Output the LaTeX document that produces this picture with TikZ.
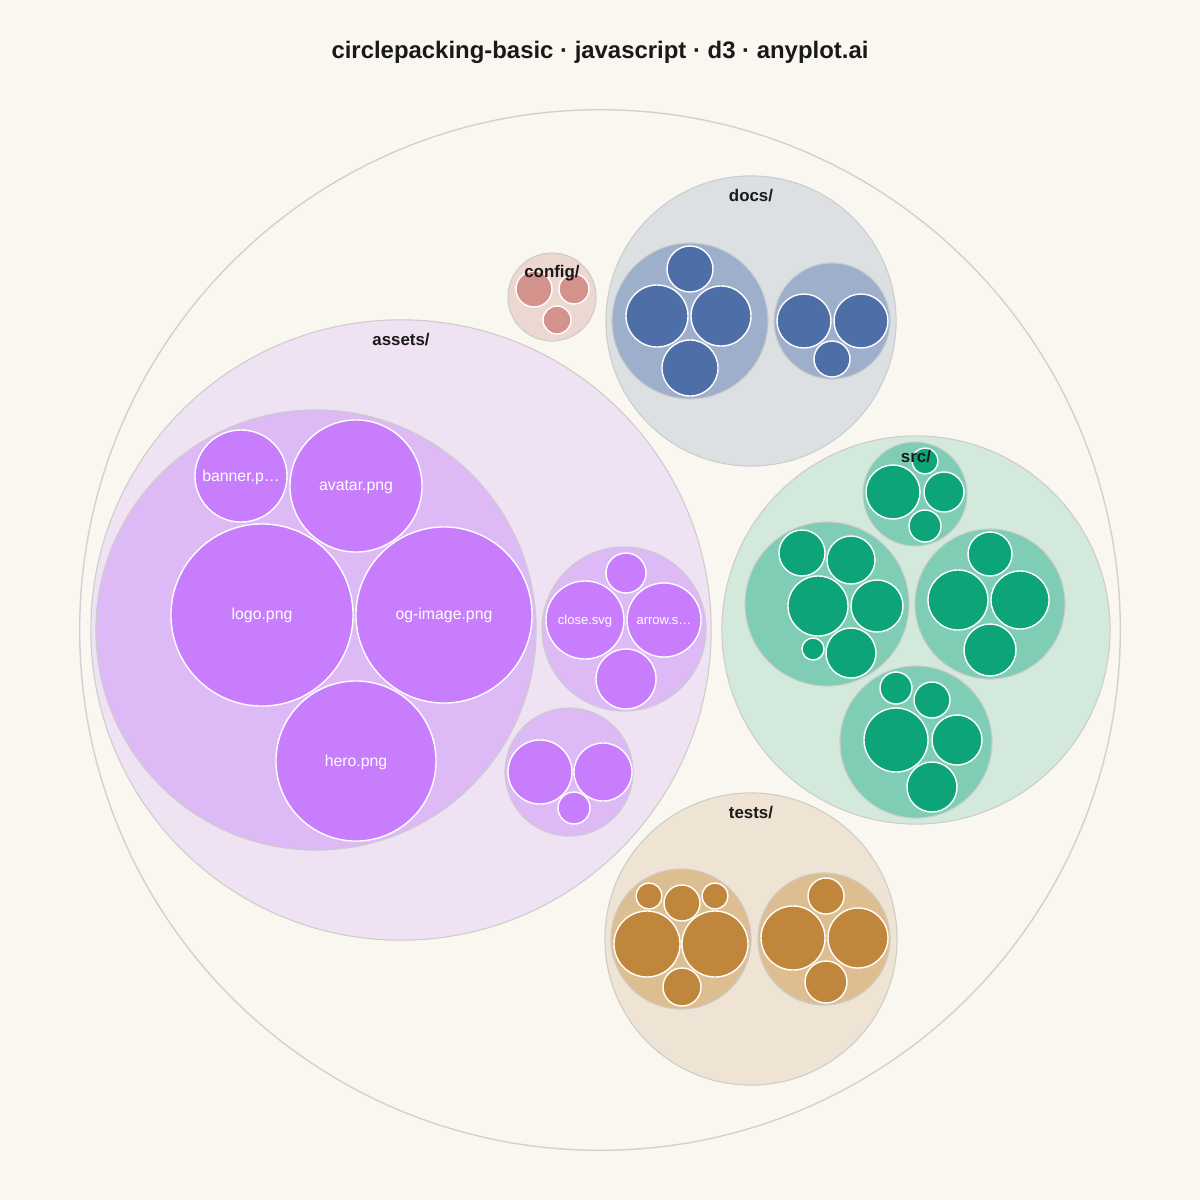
\documentclass[tikz,border=0pt]{standalone}
\usepackage{fontspec}
\setmainfont{Liberation Sans}
\definecolor{bg}{HTML}{FAF7F0}
\definecolor{pL}{HTML}{C77DFC}\definecolor{pM}{HTML}{DDB9F5}\definecolor{pG}{HTML}{EFE2F3}
\definecolor{bL}{HTML}{4E6EA8}\definecolor{bM}{HTML}{9EAFCB}\definecolor{bG}{HTML}{DCE0E3}
\definecolor{gL}{HTML}{0EA47A}\definecolor{gM}{HTML}{80CDB5}\definecolor{gG}{HTML}{D3E9DC}
\definecolor{oL}{HTML}{C0873C}\definecolor{oM}{HTML}{DDBE91}\definecolor{oG}{HTML}{EFE3D3}
\definecolor{rL}{HTML}{D4928C}\definecolor{rG}{HTML}{ECD8D0}
\begin{document}
\begin{tikzpicture}[x=0.01cm,y=-0.01cm,
 grp/.style={draw=black!20,line width=0.3pt},
 leaf/.style={draw=white,line width=0.4pt},
 glab/.style={font=\fontsize{4.8}{5}\selectfont\bfseries,text=black!90},
 llab/.style={font=\fontsize{4.5}{5}\selectfont,text=white},
 slab/.style={font=\fontsize{3.7}{4}\selectfont,text=white}]
\fill[bg] (0,0) rectangle (1200,1200);
\useasboundingbox (0,0) rectangle (1200,1200);
\node[font=\fontsize{6.8}{7}\selectfont\bfseries,text=black!90] (title) at (600,52) {circlepacking-basic · javascript · d3 · anyplot.ai};
\draw[draw=black!18,line width=0.4pt] (600,630) circle (5.2cm);
% assets
\draw[grp,fill=pG] (401,630) circle (3.1cm);
\draw[grp,fill=pM] (316,630) circle (2.2cm);
\draw[grp,fill=pM] (624,629) circle (0.82cm);
\draw[grp,fill=pM] (569,772) circle (0.64cm);
\foreach \x/\y/\r in {241/476/0.46,356/486/0.66,262/615/0.91,444/615/0.88,356/761/0.80,626/573/0.20,585/620/0.39,664/620/0.37,626/679/0.30,540/772/0.32,603/772/0.29,574/808/0.16}
 \draw[leaf,fill=pL] (\x,\y) circle (\r cm);
\node[llab] (banner) at (241,477) {banner.p…};
\node[llab] (avatar) at (356,487) {avatar.png};
\node[llab] (logo) at (262,615) {logo.png};
\node[llab] (og) at (444,615) {og-image.png};
\node[llab] (hero) at (356,762) {hero.png};
\node[slab] (close) at (585,621) {close.svg};
\node[slab] (arrow) at (664,621) {arrow.s…};
\node[glab] (assets) at (401,340) {assets/};
% config
\draw[grp,fill=rG] (552,297) circle (0.44cm);
\foreach \x/\y/\r in {534/289/0.18,574/289/0.15,557/320/0.14}
 \draw[leaf,fill=rL] (\x,\y) circle (\r cm);
\node[glab] (config) at (552,273) {config/};
% docs
\draw[grp,fill=bG] (751,321) circle (1.45cm);
\draw[grp,fill=bM] (690,321) circle (0.78cm);
\draw[grp,fill=bM] (832,321) circle (0.58cm);
\foreach \x/\y/\r in {690/269/0.23,657/316/0.31,721/316/0.30,690/368/0.28,804/321/0.27,861/321/0.27,832/359/0.18}
 \draw[leaf,fill=bL] (\x,\y) circle (\r cm);
\node[glab] (docs) at (751,196) {docs/};
% src
\draw[grp,fill=gG] (916,630) circle (1.94cm);
\draw[grp,fill=gM] (915,494) circle (0.52cm);
\draw[grp,fill=gM] (827,604) circle (0.82cm);
\draw[grp,fill=gM] (990,604) circle (0.75cm);
\draw[grp,fill=gM] (916,742) circle (0.76cm);
\foreach \x/\y/\r in {925/461/0.13,893/492/0.27,944/492/0.20,925/526/0.16,
 802/553/0.23,851/560/0.24,818/606/0.30,877/606/0.26,851/653/0.25,813/649/0.11,
 990/554/0.22,958/600/0.30,1020/600/0.29,990/650/0.26,
 896/688/0.16,932/700/0.18,896/740/0.32,957/740/0.25,932/787/0.25}
 \draw[leaf,fill=gL] (\x,\y) circle (\r cm);
\node[glab] (src) at (916,457) {src/};
% tests
\draw[grp,fill=oG] (751,939) circle (1.46cm);
\draw[grp,fill=oM] (681,939) circle (0.70cm);
\draw[grp,fill=oM] (824,939) circle (0.66cm);
\foreach \x/\y/\r in {649/896/0.13,682/903/0.18,715/896/0.13,647/944/0.33,715/944/0.33,682/987/0.19,
 826/896/0.18,793/938/0.32,858/938/0.30,826/982/0.21}
 \draw[leaf,fill=oL] (\x,\y) circle (\r cm);
\node[glab] (tests) at (751,813) {tests/};
\end{tikzpicture}
\end{document}
